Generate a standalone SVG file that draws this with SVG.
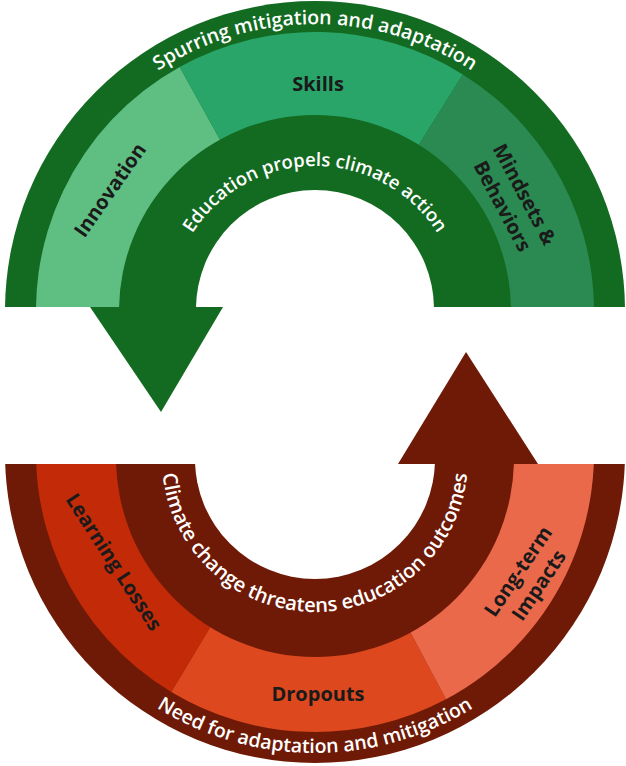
<svg xmlns="http://www.w3.org/2000/svg" xmlns:xlink="http://www.w3.org/1999/xlink" width="626" height="766" viewBox="0 0 626 766">
<style>
.gdark{fill:#136b21}
.rdark{fill:#6e1a06}
.ring{font-family:"Open Sans","Liberation Sans",sans-serif;font-weight:600;fill:#ffffff}
.lbl{font-family:"Open Sans","Liberation Sans",sans-serif;font-weight:700;fill:#1a1a1a;font-size:20px;text-anchor:middle}
</style>
<defs>
<clipPath id="clipTop"><rect x="0" y="0" width="626" height="307"/></clipPath>
<clipPath id="clipBot"><rect x="0" y="464" width="626" height="302"/></clipPath>
<path id="pTopOuter" d="M28,311 A287 287 0 0 1 602,311"/>
<path id="pTopInner" d="M170,311 A145 145 0 0 1 460,311"/>
<path id="pBotInner" d="M162,459 A153 153 0 0 0 468,459"/>
<path id="pBotOuter" d="M15,453 A300 300 0 0 0 615,453"/>
</defs>
<rect width="626" height="766" fill="#ffffff"/>

<g clip-path="url(#clipTop)">
  <g id="spurring-ring">
    <circle class="gdark" cx="315" cy="311" r="310"/>
  </g>
  <g id="innovation">
    <path fill="#5fbe82" d="M315,311 L179.7,67 A279 279 0 0 0 40.2,359.4 Z"/>
  </g>
  <g id="skills">
    <path fill="#29a56a" d="M315,311 L462.8,74.4 A279 279 0 0 0 179.7,67 Z"/>
  </g>
  <g id="mindsets">
    <path fill="#2a8a52" d="M315,311 L589.8,359.4 A279 279 0 0 0 462.8,74.4 Z"/>
  </g>
  <g id="education-band">
    <circle class="gdark" cx="315" cy="311" r="196"/>
    <circle fill="#ffffff" cx="315" cy="309" r="119"/>
  </g>
</g>

<g clip-path="url(#clipBot)">
  <g id="need-ring">
    <circle class="rdark" cx="315" cy="453" r="310"/>
  </g>
  <g id="learning-losses">
    <path fill="#c32a08" d="M315,453 L171.3,692.1 A279 279 0 0 1 40.2,404.6 Z"/>
  </g>
  <g id="dropouts">
    <path fill="#de481e" d="M315,453 L446,699.3 A279 279 0 0 1 171.3,692.1 Z"/>
  </g>
  <g id="long-term">
    <path fill="#eb694b" d="M315,453 L589.8,404.6 A279 279 0 0 1 446,699.3 Z"/>
  </g>
  <g id="climate-band">
    <circle class="rdark" cx="315" cy="458" r="199"/>
    <circle fill="#ffffff" cx="315" cy="459" r="120"/>
  </g>
</g>

<g id="connectors">
  <polygon class="gdark" points="90,307 223,307 161,412"/>
  <polygon class="rdark" points="398,464 538,464 466,352"/>
</g>

<g id="labels">
  <text class="ring" font-size="19.5"><textPath href="#pTopOuter" startOffset="50%" text-anchor="middle">Spurring mitigation and adaptation</textPath></text>
  <text class="ring" font-size="18.5"><textPath href="#pTopInner" startOffset="50%" text-anchor="middle">Education propels climate action</textPath></text>
  <text class="ring" font-size="20"><textPath href="#pBotInner" startOffset="50%" text-anchor="middle">Climate change threatens education outcomes</textPath></text>
  <text class="ring" font-size="19.5"><textPath href="#pBotOuter" startOffset="50%" text-anchor="middle">Need for adaptation and mitigation</textPath></text>

  <text class="lbl" x="318" y="91">Skills</text>
  <text class="lbl" transform="translate(110,190) rotate(-55)" y="7">Innovation</text>
  <text class="lbl" transform="translate(514,200) rotate(62)"><tspan x="0" y="-5">Mindsets &amp;</tspan><tspan x="0" y="20">Behaviors</tspan></text>
  <text class="lbl" transform="translate(114,562) rotate(57)" y="7">Learning Losses</text>
  <text class="lbl" x="318" y="701">Dropouts</text>
  <text class="lbl" transform="translate(528,578) rotate(-56)"><tspan x="0" y="-5">Long-term</tspan><tspan x="0" y="20">Impacts</tspan></text>
</g>
</svg>
